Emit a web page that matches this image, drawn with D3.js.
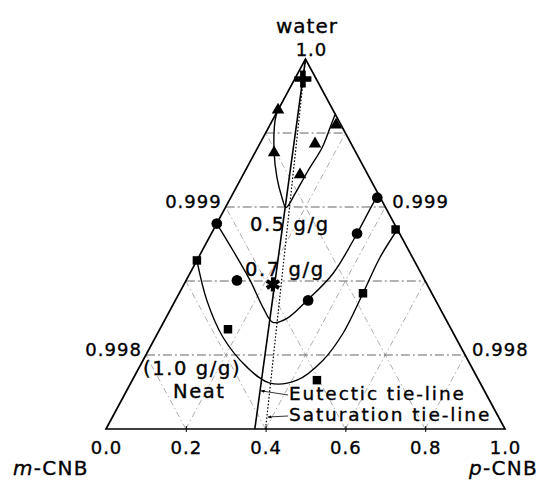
<!DOCTYPE html>
<html><head><meta charset="utf-8">
<script src="https://cdn.jsdelivr.net/npm/d3@7"></script>
<style>
body{margin:0;background:#fff}
svg{display:block}
text{font-family:"DejaVu Sans",sans-serif;fill:#000;stroke:#000;stroke-width:0.35px}
</style>
</head><body>
<svg id="c" width="542" height="481"></svg>
<script>
// ---- data (r = p-CNB solute-free fraction, w = water mass fraction) ----
const baseTicks = [0, 0.2, 0.4, 0.6, 0.8, 1.0];
const waterTicks = [0.998, 0.999];
const waterGrid = [0.998, 0.9985, 0.999, 0.9995];
const triGrid = [0.2, 0.4, 0.6, 0.8];
const eutecticR = 0.373;
const saturationR = 0.40;

const curve05 = [[0,0.999650],[0.043,0.999582],[0.182,0.999380],[0.277,0.999198],[0.343,0.999063],[0.378,0.998996],[0.428,0.999090],[0.521,0.999245],[0.673,0.999400],[0.83,0.999535],[0.99,0.999623]];
const marks05 = [[0,0.999656],[0.189,0.999367],[0.456,0.999218],[0.604,0.999427],[0.93,0.999555]];

const curve07 = [[0,0.998888],[0.149,0.998706],[0.268,0.998504],[0.341,0.998322],[0.385,0.998221],[0.434,0.998248],[0.506,0.998369],[0.619,0.998551],[0.774,0.998821],[0.933,0.999023],[1.0,0.999084]];
const marks07 = [[0,0.998888],[0.213,0.998504],[0.51,0.998369],[0.774,0.998821],[0.98,0.999063]];

const curve10 = [[0,0.998639],[0.121,0.998369],[0.225,0.998120],[0.324,0.997918],[0.398,0.997810],[0.4755,0.997830],[0.554,0.997965],[0.627,0.998147],[0.7275,0.998417],[0.848,0.998659],[1.0,0.998848]];
const marks10 = [[0,0.998639],[0.234,0.998174],[0.533,0.997830],[0.7275,0.998417],[0.99,0.998848]];

const crossPt = [[0.38, 0.999865]];
const starPt = [[0.366, 0.998477]];
const eutecticArrowW = 0.997758;
const saturationArrowW = 0.997581;

// ---- scales ----
const svg = d3.select("#c");
const x = d3.scaleLinear().domain([0,1]).range([106,505]);
const y = d3.scaleLinear().domain([0,1]).range([429,59]);
const wScale = d3.scaleLinear().domain([0.9975,1.0]).range([0,1]);
function tern(u,a){ return [x(u), y(a)]; }
function P(r,w){ const a = wScale(w); const c = (1-a)*r; return tern(c + a/2, a); }

// ---- grid ----
const g = svg.append("g");
triGrid.forEach(k=>{
  const l1 = [tern(k,0), tern(k+(1-k)/2, 1-k)];
  const l2 = [tern(1-k,0), tern((1-k)/2, 1-k)];
  [l1,l2].forEach(l=>g.append("line")
    .attr("x1",l[0][0]).attr("y1",l[0][1]).attr("x2",l[1][0]).attr("y2",l[1][1])
    .attr("stroke","#9a9a9a").attr("stroke-width",0.8).attr("stroke-dasharray","6,3,1.5,3"));
});
waterGrid.forEach(w=>{
  const a = wScale(w);
  const p1 = tern(a/2,a), p2 = tern(1-a/2,a);
  g.append("line").attr("x1",p1[0]).attr("y1",p1[1]).attr("x2",p2[0]).attr("y2",p2[1])
    .attr("stroke","#555").attr("stroke-width",0.9).attr("stroke-dasharray","9,3,2,3");
});

// ---- triangle frame ----
const frame = [tern(0,0), tern(1,0), tern(0.5,1)];
svg.append("path").attr("d", "M"+frame.join("L")+"Z")
  .attr("fill","none").attr("stroke","#000").attr("stroke-width",1.7).attr("stroke-linejoin","miter");

// ---- tie-lines ----
const apex = tern(0.5,1);
const eBase = P(eutecticR, 0.9975), sBase = P(saturationR, 0.9975);
svg.append("line").attr("x1",apex[0]).attr("y1",apex[1]).attr("x2",sBase[0]).attr("y2",sBase[1])
  .attr("stroke","#000").attr("stroke-width",1.2).attr("stroke-dasharray","1.6,1.8");
svg.append("line").attr("x1",apex[0]).attr("y1",apex[1]).attr("x2",eBase[0]).attr("y2",eBase[1])
  .attr("stroke","#000").attr("stroke-width",1.6);

// ---- curves ----
const line = d3.line().x(d=>P(d[0],d[1])[0]).y(d=>P(d[0],d[1])[1]).curve(d3.curveCatmullRom.alpha(0.5));
[curve05, curve07, curve10].forEach(c=>svg.append("path").attr("d", line(c))
  .attr("fill","none").attr("stroke","#000").attr("stroke-width",1.4));

// ---- markers ----
function drawMarks(data, type, size){
  svg.append("g").selectAll("path").data(data).join("path")
    .attr("transform", d=>{ const p = P(d[0],d[1]); return `translate(${p[0]},${p[1]})`; })
    .attr("d", d3.symbol(type, size)).attr("fill","#000");
}
drawMarks(marks05, d3.symbolTriangle, 68);
drawMarks(marks07, d3.symbolCircle, 90);
drawMarks(marks10, d3.symbolSquare, 72);
drawMarks(crossPt, d3.symbolCross, 160);
svg.append("g").selectAll("path").data(starPt).join("path")
  .attr("transform", d=>{ const p = P(d[0],d[1]); return `translate(${p[0]},${p[1]})`; })
  .attr("d", d3.symbol(d3.symbolAsterisk, 140)).attr("fill","none").attr("stroke","#000").attr("stroke-width",4);

// ---- bottom axis ----
const ax = svg.append("g").attr("transform",`translate(0,${y(0)})`)
  .call(d3.axisBottom(x).tickValues(baseTicks).tickFormat(d3.format(".1f")).tickSizeInner(3).tickSizeOuter(0).tickPadding(9));
ax.select(".domain").remove();
ax.selectAll(".tick line").attr("y1",-3).attr("stroke-width",1)
  .attr("display", d=> (d===0||d===1) ? "none" : null);
ax.selectAll(".tick text").attr("font-size",18).attr("font-family","DejaVu Sans").attr("letter-spacing","1px").attr("fill","#000");
ax.attr("font-family",null).attr("font-size",null);

// ---- water labels ----
const tl = svg.append("g").attr("font-size",18).attr("letter-spacing","1px");
waterTicks.forEach(w=>{
  const a = wScale(w);
  const L = tern(a/2,a), R = tern(1-a/2,a);
  tl.append("text").attr("x",L[0]-4).attr("y",L[1]+1).attr("text-anchor","end").text(d3.format(".3f")(w));
  tl.append("text").attr("x",R[0]+7).attr("y",R[1]+1).text(d3.format(".3f")(w));
});
tl.append("text").attr("x",apex[0]+6).attr("y",apex[1]-3).attr("text-anchor","middle").text("1.0");

// ---- titles & annotations ----
svg.append("text").attr("x",307).attr("y",33).attr("text-anchor","middle").attr("font-size",20).attr("letter-spacing","1px").text("water");
const mt = svg.append("text").attr("x",13).attr("y",475).attr("font-size",20).attr("letter-spacing","1.3px");
mt.append("tspan").attr("font-style","italic").text("m");
mt.append("tspan").text("-CNB");
const pt = svg.append("text").attr("x",538).attr("y",475).attr("text-anchor","end").attr("font-size",20).attr("letter-spacing","1.3px");
pt.append("tspan").attr("font-style","italic").text("p");
pt.append("tspan").text("-CNB");

const ann = svg.append("g").attr("font-size",19.5).attr("letter-spacing","1.6px");
ann.append("text").attr("x",250).attr("y",231).text("0.5 g/g");
ann.append("text").attr("x",245).attr("y",276).text("0.7 g/g");
ann.append("text").attr("x",143).attr("y",375).text("(1.0 g/g)");
ann.append("text").attr("x",173).attr("y",398).text("Neat");
const ann2 = svg.append("g").attr("font-size",18.5).attr("letter-spacing","1.9px");
ann2.append("text").attr("x",289).attr("y",400).text("Eutectic tie-line");
ann2.append("text").attr("x",289).attr("y",421).text("Saturation tie-line");

// leader arrows
svg.append("defs").append("marker").attr("id","ah").attr("viewBox","0 0 10 10").attr("refX",9).attr("refY",5)
  .attr("markerWidth",5).attr("markerHeight",5).attr("orient","auto")
  .append("path").attr("d","M0,1L10,5L0,9Z").attr("fill","#000");
const eT = P(eutecticR, eutecticArrowW), sT = P(saturationR, saturationArrowW);
svg.append("line").attr("x1",288).attr("y1",395).attr("x2",eT[0]+1).attr("y2",eT[1])
  .attr("stroke","#000").attr("stroke-width",0.8).attr("marker-end","url(#ah)");
svg.append("line").attr("x1",288).attr("y1",416).attr("x2",sT[0]+1).attr("y2",sT[1])
  .attr("stroke","#000").attr("stroke-width",0.8).attr("marker-end","url(#ah)");
</script>
</body></html>
